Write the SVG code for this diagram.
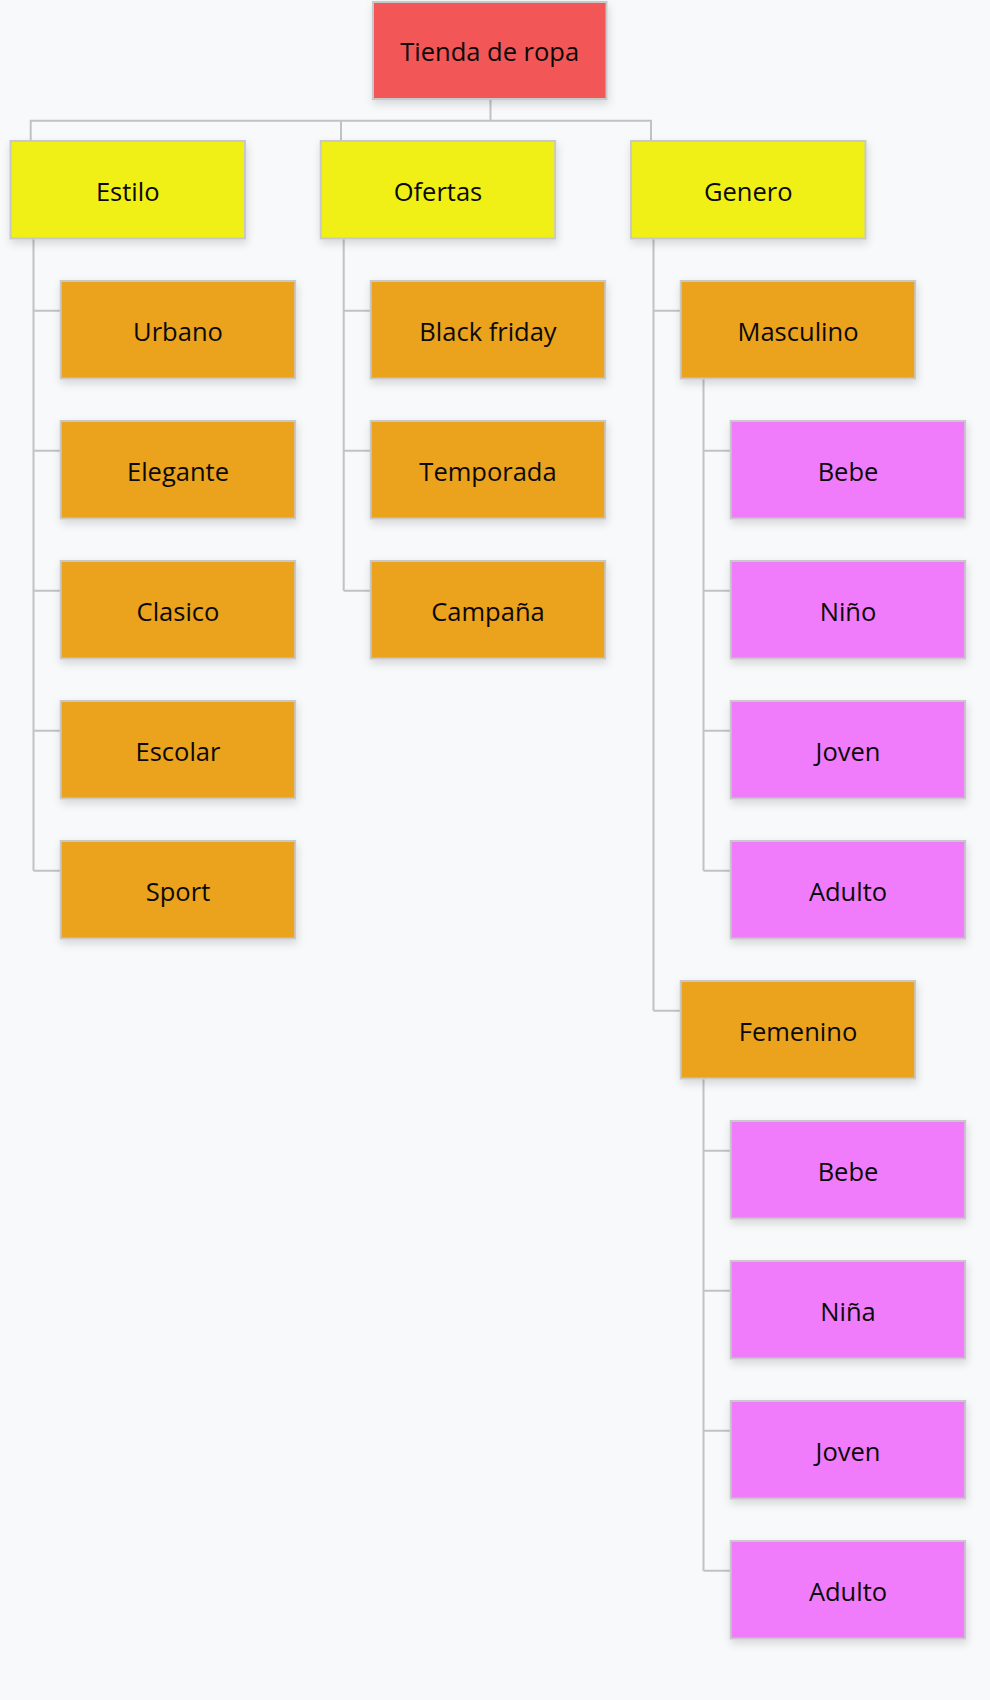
<svg xmlns="http://www.w3.org/2000/svg" width="990" height="1700" viewBox="0 0 990 1700">
<defs>
<filter id="sh" x="-20%" y="-20%" width="140%" height="150%">
<feDropShadow dx="1" dy="4" stdDeviation="4" flood-color="#000" flood-opacity="0.14"/>
</filter>
<style>
.n rect{stroke:#c8c8c8;stroke-width:2;filter:url(#sh)}
.r rect{fill:#f25757}
.y rect{fill:#f0f014}
.o rect{fill:#eba21d}
.p rect{fill:#f07cfc}
.n text{font-family:"Open Sans","Noto Sans",sans-serif;font-size:25.5px;fill:#0a0a0a;text-anchor:middle}
.c path{fill:none;stroke:#c2c2c4;stroke-width:2}
</style>
</defs>
<rect width="990" height="1700" fill="#f8f9fb"/>
<g class="c">
<path d="M490.5 99V120.7M30.7 141V120.7H651V141M341 120.7V141"/>
<path d="M33.5 238.5V870.7M33.5 310.7H60.7M33.5 450.7H60.7M33.5 590.7H60.7M33.5 730.7H60.7M33.5 870.7H60.7"/>
<path d="M343.7 238.5V590.7M343.7 310.7H370.7M343.7 450.7H370.7M343.7 590.7H370.7"/>
<path d="M653.5 238.5V1010.7M653.5 310.7H680.7M653.5 1010.7H680.7"/>
<path d="M703.5 378.5V870.7M703.5 450.7H730.7M703.5 590.7H730.7M703.5 730.7H730.7M703.5 870.7H730.7"/>
<path d="M703.5 1078.5V1570.7M703.5 1150.7H730.7M703.5 1290.7H730.7M703.5 1430.7H730.7M703.5 1570.7H730.7"/>
</g>
<g id="root" class="n r"><rect x="373" y="2" width="233.5" height="97"/><text x="489.7" y="61">Tienda de ropa</text></g>
<g id="estilo" class="n y"><rect x="10.5" y="141" width="234.5" height="97.5"/><text x="127.7" y="200.5">Estilo</text></g>
<g id="ofertas" class="n y"><rect x="320.7" y="141" width="234.5" height="97.5"/><text x="438" y="200.5">Ofertas</text></g>
<g id="genero" class="n y"><rect x="631" y="141" width="234.5" height="97.5"/><text x="748.2" y="200.5">Genero</text></g>
<g id="urbano" class="n o"><rect x="60.7" y="281" width="234.5" height="97.5"/><text x="178" y="340.5">Urbano</text></g>
<g id="elegante" class="n o"><rect x="60.7" y="421" width="234.5" height="97.5"/><text x="178" y="480.5">Elegante</text></g>
<g id="clasico" class="n o"><rect x="60.7" y="561" width="234.5" height="97.5"/><text x="178" y="620.5">Clasico</text></g>
<g id="escolar" class="n o"><rect x="60.7" y="701" width="234.5" height="97.5"/><text x="178" y="760.5">Escolar</text></g>
<g id="sport" class="n o"><rect x="60.7" y="841" width="234.5" height="97.5"/><text x="178" y="900.5">Sport</text></g>
<g id="blackfriday" class="n o"><rect x="370.7" y="281" width="234.5" height="97.5"/><text x="488" y="340.5">Black friday</text></g>
<g id="temporada" class="n o"><rect x="370.7" y="421" width="234.5" height="97.5"/><text x="488" y="480.5">Temporada</text></g>
<g id="campana" class="n o"><rect x="370.7" y="561" width="234.5" height="97.5"/><text x="488" y="620.5">Campaña</text></g>
<g id="masculino" class="n o"><rect x="680.7" y="281" width="234.5" height="97.5"/><text x="798" y="340.5">Masculino</text></g>
<g id="m-bebe" class="n p"><rect x="730.7" y="421" width="234.5" height="97.5"/><text x="848" y="480.5">Bebe</text></g>
<g id="m-nino" class="n p"><rect x="730.7" y="561" width="234.5" height="97.5"/><text x="848" y="620.5">Niño</text></g>
<g id="m-joven" class="n p"><rect x="730.7" y="701" width="234.5" height="97.5"/><text x="848" y="760.5">Joven</text></g>
<g id="m-adulto" class="n p"><rect x="730.7" y="841" width="234.5" height="97.5"/><text x="848" y="900.5">Adulto</text></g>
<g id="femenino" class="n o"><rect x="680.7" y="981" width="234.5" height="97.5"/><text x="798" y="1040.5">Femenino</text></g>
<g id="f-bebe" class="n p"><rect x="730.7" y="1121" width="234.5" height="97.5"/><text x="848" y="1180.5">Bebe</text></g>
<g id="f-nina" class="n p"><rect x="730.7" y="1261" width="234.5" height="97.5"/><text x="848" y="1320.5">Niña</text></g>
<g id="f-joven" class="n p"><rect x="730.7" y="1401" width="234.5" height="97.5"/><text x="848" y="1460.5">Joven</text></g>
<g id="f-adulto" class="n p"><rect x="730.7" y="1541" width="234.5" height="97.5"/><text x="848" y="1600.5">Adulto</text></g>
</svg>
